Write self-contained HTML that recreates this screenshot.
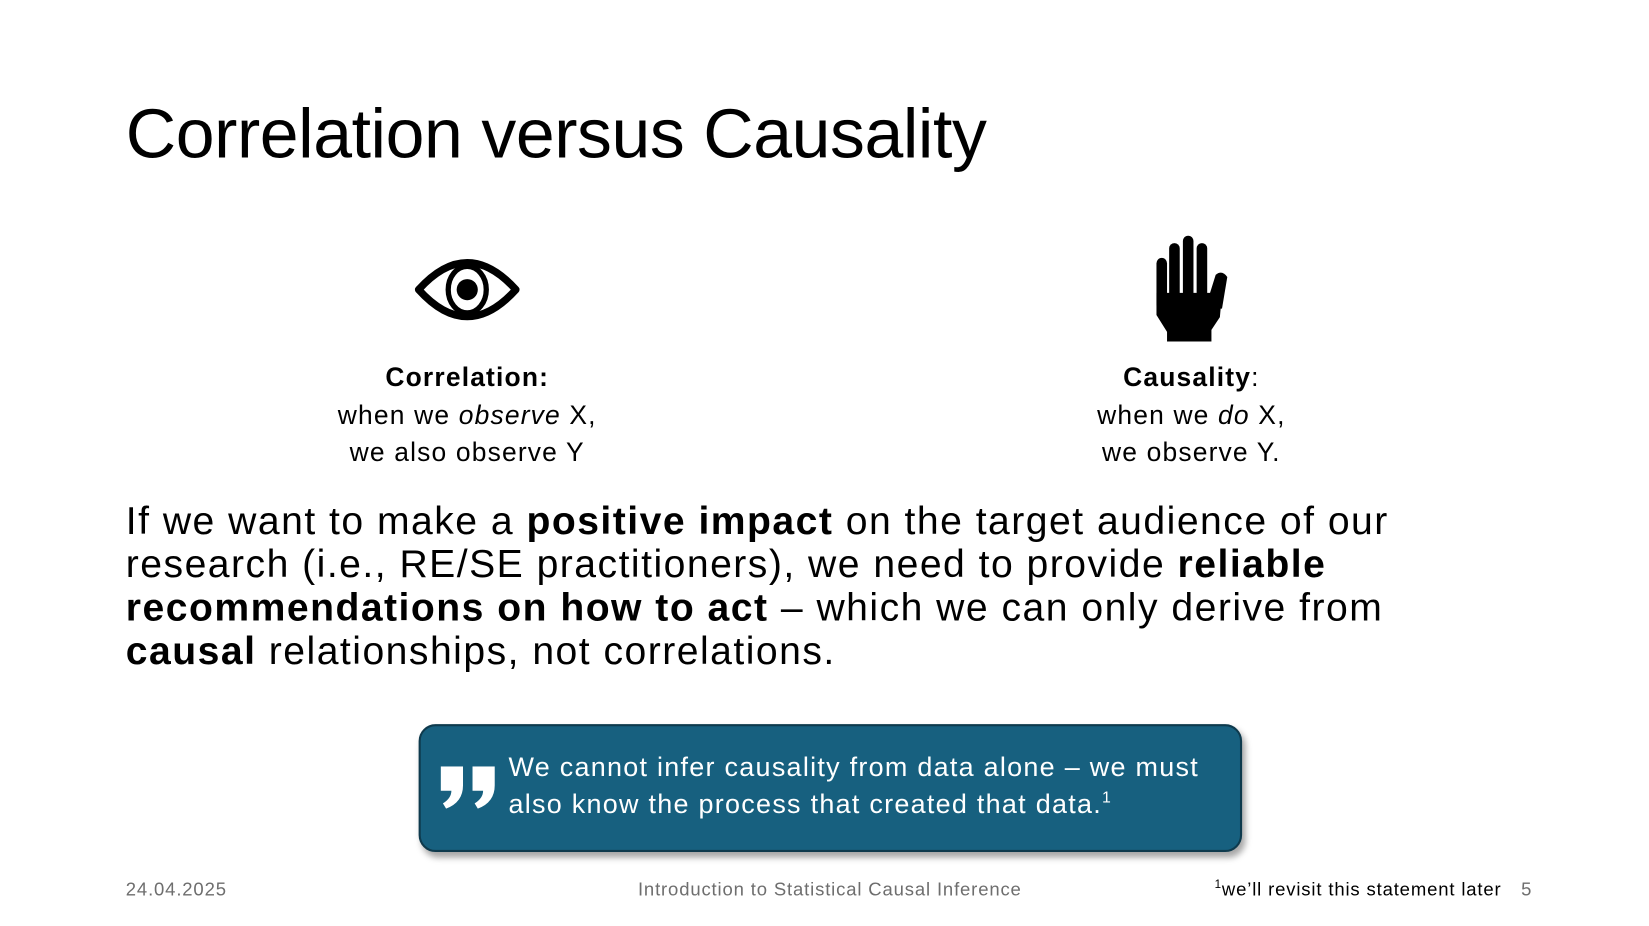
<!DOCTYPE html>
<html><head><meta charset="utf-8"><style>
html,body{margin:0;padding:0;background:#fff;}
body{width:1649px;height:926px;overflow:hidden;position:relative;font-family:"Liberation Sans",sans-serif;color:#000;}
#s{position:absolute;left:0;top:0;width:1560px;height:876px;transform:scale(1.0571);transform-origin:0 0;}
.a{position:absolute;white-space:nowrap;}
.title{left:119px;top:88px;font-size:66px;letter-spacing:-0.4px;}
.cap{font-size:25px;text-align:center;line-height:35.5px;letter-spacing:1.1px;}
.para{left:119px;top:472px;font-size:37px;line-height:41px;letter-spacing:1.4px;}
.box{left:396px;top:685px;width:775px;height:117px;background:#17607f;border:2px solid #0e3a4d;border-radius:16px;box-shadow:3px 5px 6px rgba(0,0,0,0.35);}
.qt{left:481px;top:709px;font-size:25.5px;line-height:35px;color:#fff;letter-spacing:1.2px;}
.qt sup{font-size:15px;line-height:0;vertical-align:10px;}
.ft{font-size:17.5px;color:#6e6e6e;top:831px;letter-spacing:0.8px;}
</style></head><body>
<div id="s">
<div class="a title">Correlation versus Causality</div>

<svg class="a" style="left:392px;top:243px" width="100" height="62" viewBox="0 0 100 62">
<path d="M4 31 Q50 -20 96 31 Q50 82 4 31 Z" fill="none" stroke="#000" stroke-width="7" stroke-linejoin="round"/>
<ellipse cx="50" cy="31" rx="18" ry="22" fill="none" stroke="#000" stroke-width="5"/>
<circle cx="50" cy="31" r="10" fill="#000"/>
</svg>

<svg class="a" style="left:1090px;top:222px" width="74" height="102" viewBox="0 0 74 102">
<rect x="4" y="22" width="10" height="50" rx="5" fill="#000"/>
<rect x="16" y="8" width="10" height="60" rx="5" fill="#000"/>
<rect x="29" y="1" width="10" height="66" rx="5" fill="#000"/>
<rect x="42" y="8" width="10" height="60" rx="5" fill="#000"/>
<path d="M60 38 Q66 33 71 40 L66 70 L50 70 Z" fill="#000"/>
<path d="M4 55 L66 55 L64 78 L56 90 L56 101 L14 101 L14 92 L4 76 Z" fill="#000"/>
</svg>

<div class="a cap" style="left:242px;width:400px;top:340px"><b>Correlation:</b><br>when we <i>observe</i> X,<br>we also observe Y</div>
<div class="a cap" style="left:927px;width:400px;top:340px"><b>Causality</b>:<br>when we <i>do</i> X,<br>we observe Y.</div>

<div class="a para">If we want to make a <b>positive impact</b> on the target audience of our<br>research (i.e., RE/SE practitioners), we need to provide <b>reliable</b><br><b>recommendations on how to act</b> – which we can only derive from<br><b>causal</b> relationships, not correlations.</div>

<div class="a box"></div>
<svg class="a" style="left:416px;top:725px" width="54" height="42" viewBox="0 0 54 42">
<path d="M1 0 L22 0 L22 18 Q22 34 6 40 L3 35 Q11 30 11 23 L1 23 Z" fill="#fff"/>
<path d="M31 0 L52 0 L52 18 Q52 34 36 40 L33 35 Q41 30 41 23 L31 23 Z" fill="#fff"/>
</svg>
<div class="a qt">We cannot infer causality from data alone – we must<br>also know the process that created that data.<sup>1</sup></div>

<div class="a ft" style="left:119px">24.04.2025</div>
<div class="a ft" style="left:485px;width:600px;text-align:center">Introduction to Statistical Causal Inference</div>
<div class="a ft" style="left:1149px;color:#000"><sup style="font-size:11px">1</sup>we’ll revisit this statement later</div>
<div class="a ft" style="left:1439px">5</div>
</div>
</body></html>
